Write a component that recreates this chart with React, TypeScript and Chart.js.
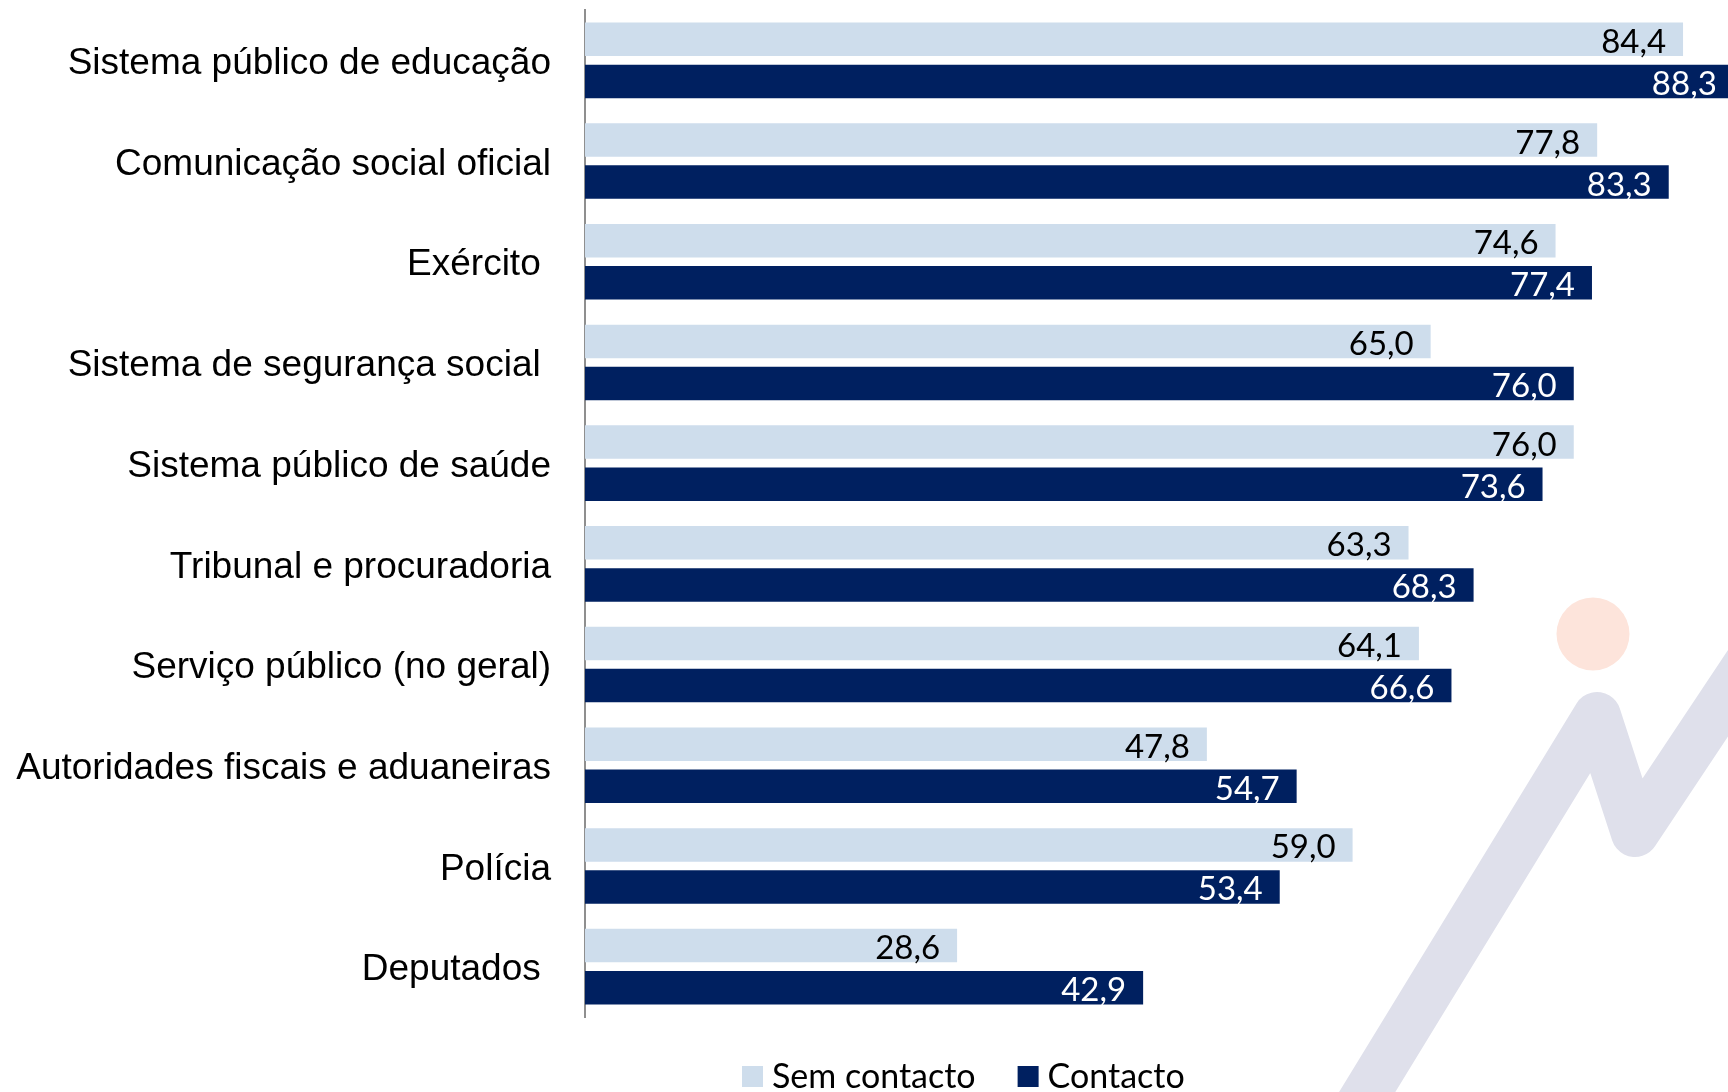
import React, { useEffect, useRef } from "react";
import { Chart, registerables } from "chart.js";

Chart.register(...registerables);

const categories = [
  "Sistema público de educação",
  "Comunicação social oficial",
  "Exército ",
  "Sistema de segurança social ",
  "Sistema público de saúde",
  "Tribunal e procuradoria",
  "Serviço público (no geral)",
  "Autoridades fiscais e aduaneiras",
  "Polícia",
  "Deputados ",
];
const semContacto = [84.4, 77.8, 74.6, 65.0, 76.0, 63.3, 64.1, 47.8, 59.0, 28.6];
const contacto = [88.3, 83.3, 77.4, 76.0, 73.6, 68.3, 66.6, 54.7, 53.4, 42.9];
const seriesNames = ["Sem contacto", "Contacto"];
const seriesColors = ["#CEDDEC", "#002060"];
const labelColors = ["#000000", "#FFFFFF"];

const W = 1728;
const H = 1092;

const fmt = (v: number) => v.toFixed(1).replace(".", ",");

const watermark = {
  id: "watermark",
  beforeDraw(chart: any) {
    const ctx = chart.ctx as CanvasRenderingContext2D;
    ctx.save();
    ctx.strokeStyle = "#DFE0EB";
    ctx.lineWidth = 48;
    ctx.lineJoin = "round";
    ctx.lineCap = "round";
    ctx.beginPath();
    ctx.moveTo(1344, 1130);
    ctx.lineTo(1597, 716);
    ctx.lineTo(1635, 833);
    ctx.lineTo(1800, 585);
    ctx.stroke();
    ctx.fillStyle = "#FDE4DB";
    ctx.beginPath();
    ctx.arc(1593, 634, 36.5, 0, Math.PI * 2);
    ctx.fill();
    ctx.restore();
  },
};

const valueLabels = {
  id: "valueLabels",
  afterDatasetsDraw(chart: any) {
    const ctx = chart.ctx as CanvasRenderingContext2D;
    const xs = chart.scales.x;
    chart.data.datasets.forEach((ds: any, di: number) => {
      const meta = chart.getDatasetMeta(di);
      meta.data.forEach((el: any, i: number) => {
        const v = ds.data[i] as number;
        const x = xs.getPixelForValue(v) - 17;
        ctx.save();
        ctx.font = "33px Lato";
        ctx.fillStyle = labelColors[di];
        ctx.textAlign = "right";
        ctx.textBaseline = "alphabetic";
        ctx.fillText(fmt(v), x, el.y + 13.5);
        ctx.restore();
      });
    });
  },
};

const customLegend = {
  id: "customLegend",
  afterDraw(chart: any) {
    const ctx = chart.ctx as CanvasRenderingContext2D;
    ctx.save();
    ctx.font = "34px Lato";
    ctx.textAlign = "left";
    ctx.textBaseline = "alphabetic";
    let x = 742;
    const boxTop = 1066;
    const box = 21;
    const baseline = 1088;
    chart.data.datasets.forEach((ds: any) => {
      ctx.fillStyle = ds.backgroundColor;
      ctx.fillRect(x, boxTop, box, box);
      x += box + 9;
      ctx.fillStyle = "#000000";
      ctx.fillText(ds.label, x, baseline);
      x += ctx.measureText(ds.label).width + 42;
    });
    ctx.restore();
  },
};

export default function App() {
  const ref = useRef<HTMLCanvasElement | null>(null);

  useEffect(() => {
    if (!ref.current) return;
    const chart = new Chart(ref.current, {
      type: "bar",
      data: {
        labels: categories,
        datasets: [
          {
            label: seriesNames[0],
            data: semContacto,
            backgroundColor: seriesColors[0],
            categoryPercentage: 0.836,
            barPercentage: 0.796,
          },
          {
            label: seriesNames[1],
            data: contacto,
            backgroundColor: seriesColors[1],
            categoryPercentage: 0.836,
            barPercentage: 0.796,
          },
        ],
      },
      options: {
        indexAxis: "y",
        responsive: false,
        animation: false,
        events: [],
        layout: { padding: { top: 10, bottom: 75, left: 0, right: 0 } },
        scales: {
          x: {
            display: false,
            min: 0,
            max: (W - 585) / 13.01,
          },
          y: {
            afterFit: (scale: any) => {
              scale.width = 585;
              scale.paddingTop = 0;
              scale.paddingBottom = 0;
            },
            grid: { display: false, drawTicks: false },
            border: { display: true, color: "#8F8F8F", width: 2 },
            ticks: {
              padding: 34,
              labelOffset: 3.5,
              color: "#000000",
              font: { family: "'Liberation Sans', Arial, sans-serif", size: 37 },
            },
          },
        },
        plugins: {
          legend: { display: false },
          tooltip: { enabled: false },
        },
      },
      plugins: [watermark, valueLabels, customLegend],
    });
    return () => chart.destroy();
  }, []);

  return (
    <div style={{ position: "absolute", left: 0, top: 0, width: W, height: H, background: "#FFFFFF" }}>
      <canvas ref={ref} width={W} height={H} style={{ display: "block", width: W, height: H }} />
    </div>
  );
}
